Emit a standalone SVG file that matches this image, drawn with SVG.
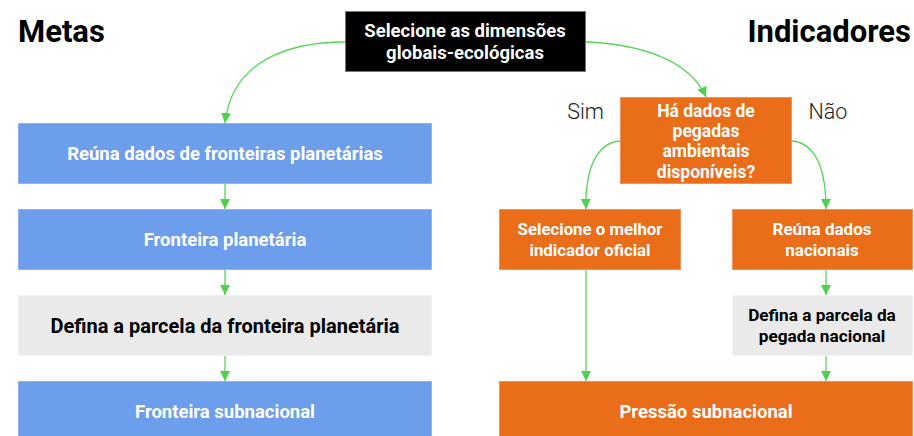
<svg xmlns="http://www.w3.org/2000/svg" width="914" height="436" viewBox="0 0 914 436">
<style>
.t{font-family:Roboto,"Liberation Sans",sans-serif;font-weight:700;text-anchor:middle;dominant-baseline:central}
.w{fill:#ffffff}
.k{fill:#000000}
.blue{fill:#6d9eeb;stroke:#8fb3ef;stroke-width:1}
.org{fill:#ea6d1a;stroke:#f0915a;stroke-width:1}
.gry{fill:#eaeaea;stroke:#f2f2f2;stroke-width:1}
.c{fill:none;stroke:#5ad35a;stroke-width:1.3}
.h{font-family:Roboto,"Liberation Sans",sans-serif;font-weight:700;font-size:31px;fill:#000}
.lbl{font-family:Roboto,"Liberation Sans",sans-serif;font-weight:300;font-size:21.5px;fill:#222;text-anchor:middle;dominant-baseline:central}
</style>
<defs>
<marker id="ah" markerWidth="10" markerHeight="10" refX="10" refY="5" orient="auto" markerUnits="userSpaceOnUse">
<path d="M0,0 L10,5 L0,10 Z" fill="#4dd24d"/>
</marker>
</defs>
<rect width="914" height="436" fill="#ffffff"/>
<text class="h" x="18" y="42">Metas</text>
<text class="h" x="911" y="42" text-anchor="end">Indicadores</text>
<g id="connectors">
<path class="c" marker-end="url(#ah)" d="M345,42 C290,42 232,60 225,123"/>
<path class="c" marker-end="url(#ah)" d="M586,42 C640,44 690,60 706,97"/>
<path class="c" marker-end="url(#ah)" d="M225,184 L225,209"/>
<path class="c" marker-end="url(#ah)" d="M225,269 L225,295"/>
<path class="c" marker-end="url(#ah)" d="M225,355 L225,381"/>
<path class="c" marker-end="url(#ah)" d="M620,141 C596,143 585,170 586,209"/>
<path class="c" marker-end="url(#ah)" d="M792,141 C816,143 826,170 826,209"/>
<path class="c" marker-end="url(#ah)" d="M586,269 L586,381"/>
<path class="c" marker-end="url(#ah)" d="M826,269 L826,295"/>
<path class="c" marker-end="url(#ah)" d="M826,355 L826,381"/>
</g>
<g id="start">
<rect x="345.5" y="11.5" width="240" height="60" fill="#000" stroke="#777" stroke-width="1"/>
<text class="t w" font-size="18.5" x="465" y="31">Selecione as dimensões</text>
<text class="t w" font-size="18.5" x="465" y="53">globais-ecológicas</text>
</g>
<g id="m1">
<rect class="blue" x="18.5" y="123.5" width="413" height="60"/>
<text class="t w" font-size="18.5" x="225" y="154">Reúna dados de fronteiras planetárias</text>
</g>
<g id="m2">
<rect class="blue" x="18.5" y="209.5" width="413" height="60"/>
<text class="t w" font-size="18.5" x="225" y="240">Fronteira planetária</text>
</g>
<g id="m3">
<rect class="gry" x="18.5" y="295.5" width="413" height="60"/>
<text class="t k" font-size="20" x="225" y="326">Defina a parcela da fronteira planetária</text>
</g>
<g id="m4">
<rect class="blue" x="18.5" y="381.5" width="413" height="60"/>
<text class="t w" font-size="18.5" x="225" y="412">Fronteira subnacional</text>
</g>
<g id="decision">
<rect class="org" x="620.5" y="97.5" width="171" height="86"/>
<text class="t w" font-size="17.5" x="706" y="111">Há dados de</text>
<text class="t w" font-size="17.5" x="706" y="131">pegadas</text>
<text class="t w" font-size="17.5" x="706" y="151">ambientais</text>
<text class="t w" font-size="17.5" x="706" y="172">disponíveis?</text>
</g>
<text class="lbl" x="585.5" y="111">Sim</text>
<text class="lbl" x="828" y="111">Não</text>
<g id="i1">
<rect class="org" x="499.5" y="209.5" width="181" height="60"/>
<text class="t w" font-size="16.8" x="590" y="229">Selecione o melhor</text>
<text class="t w" font-size="16.8" x="590" y="250">indicador oficial</text>
</g>
<g id="i2">
<rect class="org" x="732.5" y="209.5" width="180" height="60"/>
<text class="t w" font-size="17" x="822" y="229">Reúna dados</text>
<text class="t w" font-size="17" x="822" y="250">nacionais</text>
</g>
<g id="i3">
<rect class="gry" x="732.5" y="295.5" width="180" height="60"/>
<text class="t k" font-size="17.2" x="822" y="315">Defina a parcela da</text>
<text class="t k" font-size="17.2" x="822" y="336">pegada nacional</text>
</g>
<g id="i4">
<rect class="org" x="499.5" y="381.5" width="413" height="60"/>
<text class="t w" font-size="18.5" x="706" y="412">Pressão subnacional</text>
</g>
</svg>
